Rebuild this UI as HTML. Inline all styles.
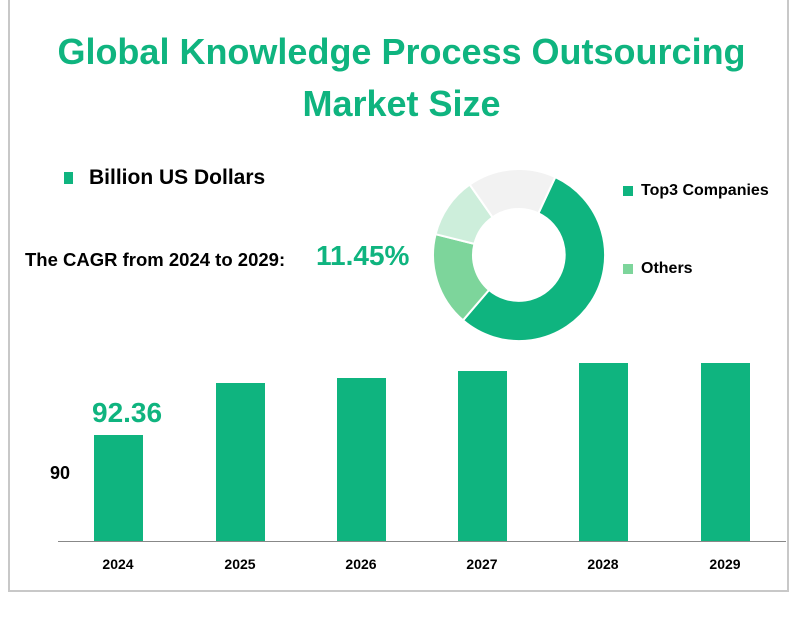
<!DOCTYPE html>
<html><head><style>
body{margin:0;width:803px;height:618px;background:#fff;font-family:"Liberation Sans",sans-serif;overflow:hidden;position:relative}
.t{position:absolute;font-weight:bold;white-space:nowrap}
.bar{position:absolute;background:#0fb47f;width:49px}
.yr{position:absolute;top:556px;width:80px;text-align:center;font-weight:bold;font-size:14px}
</style></head><body>
<div style="position:absolute;left:8px;top:-5px;width:777px;height:593px;border:2px solid #c8c8c8"></div>
<div class="t" style="left:0;width:803px;top:26px;text-align:center;color:#0fb47f;font-size:36px;line-height:52px">Global Knowledge Process Outsourcing<br>Market Size</div>
<div style="position:absolute;left:64px;top:172px;width:9px;height:12px;background:#0fb47f"></div>
<div class="t" style="left:89px;top:166px;font-size:21px">Billion US Dollars</div>
<div class="t" style="left:25px;top:249px;font-size:18.5px">The CAGR from 2024 to 2029:</div>
<div class="t" style="left:316px;top:240px;font-size:28px;color:#0fb47f">11.45%</div>
<svg style="position:absolute;left:0;top:0" width="803" height="618">
<g transform="translate(519,255)" stroke="#fff" stroke-width="2">
<path d="M36.3,-77.9 A86,86 0 1 1 -56,65.3 L-30,35 A46,46 0 1 0 19.4,-41.7Z" fill="#0fb47f"/>
<path d="M-56,65.3 A86,86 0 0 1 -83.4,-20.8 L-44.6,-11.1 A46,46 0 0 0 -30,35Z" fill="#7dd59b"/>
<path d="M-83.4,-20.8 A86,86 0 0 1 -49.3,-70.4 L-26.4,-37.7 A46,46 0 0 0 -44.6,-11.1Z" fill="#cdeedb"/>
<path d="M-49.3,-70.4 A86,86 0 0 1 36.3,-77.9 L19.4,-41.7 A46,46 0 0 0 -26.4,-37.7Z" fill="#f2f2f2"/>
</g>
<line x1="58" y1="541.5" x2="786" y2="541.5" stroke="#888" stroke-width="1"/>
</svg>
<div style="position:absolute;left:623px;top:186px;width:10px;height:10px;background:#0fb47f"></div>
<div class="t" style="left:641px;top:182px;font-size:16px">Top3 Companies</div>
<div style="position:absolute;left:623px;top:264px;width:10px;height:10px;background:#7dd59b"></div>
<div class="t" style="left:641px;top:260px;font-size:16px">Others</div>
<div class="bar" style="left:94px;top:435px;height:106px"></div>
<div class="bar" style="left:216px;top:383px;height:158px"></div>
<div class="bar" style="left:337px;top:378px;height:163px"></div>
<div class="bar" style="left:458px;top:371px;height:170px"></div>
<div class="bar" style="left:579px;top:363px;height:178px"></div>
<div class="bar" style="left:701px;top:363px;height:178px"></div>
<div class="t" style="left:92px;top:397px;font-size:28px;color:#0fb47f">92.36</div>
<div class="t" style="left:50px;top:463px;font-size:18px">90</div>
<div class="yr" style="left:78px">2024</div>
<div class="yr" style="left:200px">2025</div>
<div class="yr" style="left:321px">2026</div>
<div class="yr" style="left:442px">2027</div>
<div class="yr" style="left:563px">2028</div>
<div class="yr" style="left:685px">2029</div>
</body></html>
